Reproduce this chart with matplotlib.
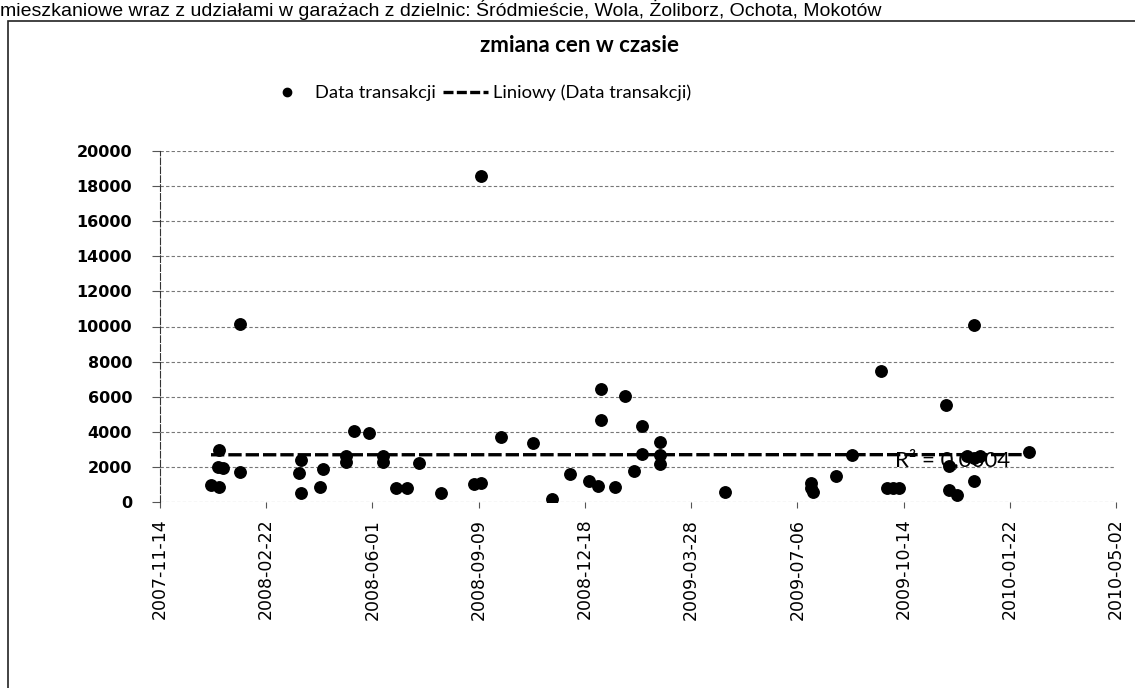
import numpy as np
import matplotlib.pyplot as plt
import matplotlib.dates as mdates
from matplotlib.lines import Line2D
from matplotlib.patches import Rectangle


# data: transaction date and price
DATES = ['2008-01-01', '2008-01-09', '2008-01-08', '2008-01-12', '2008-01-09',
         '2008-01-28', '2008-01-28', '2008-03-26', '2008-03-24', '2008-03-26',
         '2008-04-15', '2008-04-13', '2008-05-07', '2008-05-07', '2008-05-15',
         '2008-05-29', '2008-06-11', '2008-06-11', '2008-06-23', '2008-07-04',
         '2008-07-15', '2008-08-05', '2008-09-05', '2008-09-11', '2008-09-11',
         '2008-09-30', '2008-10-30', '2008-11-17', '2008-12-04', '2008-12-22',
         '2008-12-30', '2009-01-02', '2009-01-02', '2009-01-15', '2009-01-25',
         '2009-02-02', '2009-02-10', '2009-02-10', '2009-02-27', '2009-02-27',
         '2009-02-27', '2009-04-29', '2009-07-19', '2009-07-19', '2009-07-21',
         '2009-08-11', '2009-08-26', '2009-09-23', '2009-09-28', '2009-10-04',
         '2009-10-10', '2009-11-23', '2009-11-26', '2009-11-26', '2009-12-03',
         '2009-12-13', '2009-12-19', '2009-12-25', '2009-12-19', '2009-12-19',
         '2010-02-09']
PRICES = [970, 840, 2020, 1930, 2970,
          1730, 10150, 2400, 1640, 530,
          1870, 840, 2600, 2300, 4060,
          3930, 2600, 2300, 780, 780,
          2210, 500, 1030, 1100, 18550,
          3700, 3390, 170, 1590, 1210,
          890, 6460, 4650, 870, 6060,
          1770, 4350, 2760, 3410, 2690,
          2170, 550, 1100, 800, 590,
          1500, 2660, 7470, 800, 820,
          800, 5540, 2050, 690, 400,
          2600, 2500, 2600, 10110, 1180,
          2840]

X_START = '2007-11-14'
X_END = '2010-05-02'
Y_TICKS = [0, 2000, 4000, 6000, 8000, 10000, 12000, 14000, 16000, 18000, 20000]

TITLE = 'zmiana cen w czasie'
HEADER = 'mieszkaniowe wraz z udziałami w garażach z dzielnic: Śródmieście, Wola, Żoliborz, Ochota, Mokotów'
R2_TEXT = 'R² = 0,0004'


def main():
    fig = plt.figure(figsize=(11.35, 6.88), dpi=100)
    ax = fig.add_axes([160 / 1135, 1 - 502 / 688, 956 / 1135, 351 / 688])

    x = mdates.datestr2num(DATES)
    y = np.array(PRICES, dtype=float)

    # scatter of transactions
    ax.scatter(x, y, s=68, color='black', zorder=3)

    # linear trend (Excel "Liniowy")
    k, b = np.polyfit(x, y, 1)
    xt = np.array([x.min(), x.max()])
    ax.plot(xt, k * xt + b, color='black', lw=2.4, dashes=(4, 1.2), zorder=4)

    # axes
    x0 = mdates.datestr2num(X_START)
    x1 = mdates.datestr2num(X_END)
    ax.set_xlim(x0, x1)
    ax.set_ylim(0, 20000)
    ax.set_xticks(np.arange(x0, x1 + 1, 100))
    ax.xaxis.set_major_formatter(mdates.DateFormatter('%Y-%m-%d'))
    ax.set_yticks(Y_TICKS)
    for lab in ax.get_xticklabels():
        lab.set_rotation(90)
        lab.set_fontsize(12.5)
    for lab in ax.get_yticklabels():
        lab.set_fontsize(11.5)
        lab.set_fontweight('bold')
    ax.tick_params(axis='x', length=4, color='#555555', pad=8)
    ax.tick_params(axis='y', length=6, color='#555555', pad=14)

    ax.grid(axis='y', color='#777777', lw=0.8, ls=(0, (3, 2)))
    ax.set_axisbelow(True)
    for side in ['top', 'right', 'bottom']:
        ax.spines[side].set_visible(False)
    ax.spines['left'].set_color('#333333')
    ax.spines['left'].set_linestyle((0, (6, 2)))

    ax.text((895 - 160) / 956, (502 - 460) / 351, R2_TEXT,
            transform=ax.transAxes, fontsize=16, family='Lato',
            va='center', zorder=5)

    # title and legend
    fig.text(580 / 1135, 1 - 46 / 688, TITLE, ha='center', va='center',
             fontsize=16, fontweight='bold', family='Lato')
    handles = [Line2D([], [], ls='none', marker='o', color='black', markersize=6),
               Line2D([], [], color='black', lw=2.4, dashes=(3, 1))]
    fig.legend(handles, ['Data transakcji', 'Liniowy (Data transakcji)'],
               loc='center left', bbox_to_anchor=(255 / 1135, 1 - 93 / 688),
               ncol=2, frameon=False, prop={'family': 'Lato', 'size': 13.2},
               borderpad=0, columnspacing=0.4, handlelength=2.45,
               handletextpad=0.3)

    # header line from the scanned page (mostly cut off there) and chart border
    fig.text(0.0, 1 - 16 / 688, HEADER, ha='left', va='baseline',
             fontsize=14, family='Liberation Sans')
    fig.patches.append(Rectangle((8 / 1135, -0.05), 1.1, 1 - 21 / 688 + 0.05,
                                 transform=fig.transFigure, fill=False,
                                 edgecolor='#222222', lw=1.2))

    fig.savefig('out.png', dpi=100)


if __name__ == '__main__':
    main()
